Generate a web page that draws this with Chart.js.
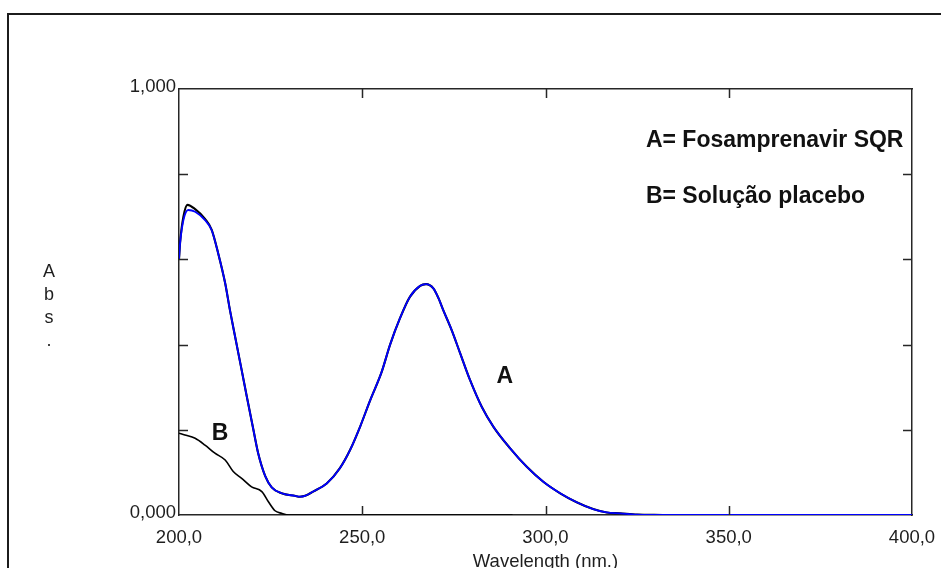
<!DOCTYPE html>
<html>
<head>
<meta charset="utf-8">
<title>Espectro de absorção</title>
<script src="https://cdn.jsdelivr.net/npm/chart.js@4/dist/chart.umd.min.js"></script>
<style>
  html, body { margin: 0; padding: 0; background: #ffffff; }
  #chart { display: block; }
</style>
</head>
<body>
<canvas id="chart" width="941" height="568"></canvas>
<script>
// Curve A: Fosamprenavir SQR (wavelength in nm, absorbance)
const wavelengthsA = [200.0, 200.3, 201.2, 202.5, 204.4, 207.1, 208.9, 210.7, 212.6, 213.9,
  215.3, 217.1, 218.5, 220.3, 221.6, 223.5, 225.3, 228.0, 231.6, 233.0,
  234.4, 236.6, 240.3, 243.9, 246.7, 249.4, 252.1, 255.3, 257.6, 260.3,
  263.0, 265.8, 267.4, 269.4, 270.8, 272.1, 274.4, 276.7, 279.4, 282.6,
  285.8, 290.3, 294.9, 299.4, 304.0, 308.5, 313.0, 316.7, 320.3, 325.0,
  332.0, 400.0];
const absA = [0.600, 0.638, 0.692, 0.716, 0.712, 0.692, 0.669, 0.614, 0.544, 0.481,
  0.419, 0.340, 0.278, 0.200, 0.145, 0.092, 0.065, 0.051, 0.045, 0.043,
  0.045, 0.055, 0.074, 0.110, 0.153, 0.207, 0.268, 0.336, 0.400, 0.462,
  0.512, 0.538, 0.542, 0.532, 0.509, 0.481, 0.434, 0.380, 0.317, 0.254,
  0.207, 0.157, 0.113, 0.078, 0.051, 0.030, 0.014, 0.006, 0.004, 0.001,
  0.000, 0.000];

// Second recording of A (black trace, 200-332 nm)
const wavelengthsA2 = [200.0, 200.3, 201.2, 202.3, 204.4, 207.1, 208.9, 210.7, 212.6, 213.9,
  215.3, 217.1, 218.5, 220.3, 221.6, 223.5, 225.3, 228.0, 231.6, 233.0,
  234.4, 236.6, 240.3, 243.9, 246.7, 249.4, 252.1, 255.3, 257.6, 260.3,
  263.0, 265.8, 267.4, 269.4, 270.8, 272.1, 274.4, 276.7, 279.4, 282.6,
  285.8, 290.3, 294.9, 299.4, 304.0, 308.5, 313.0, 316.7, 320.3, 325.0,
  332.0];
const absA2 = [0.600, 0.640, 0.700, 0.728, 0.718, 0.695, 0.670, 0.614, 0.544, 0.481,
  0.419, 0.340, 0.278, 0.200, 0.145, 0.092, 0.065, 0.051, 0.045, 0.043,
  0.045, 0.055, 0.074, 0.110, 0.153, 0.207, 0.268, 0.336, 0.400, 0.462,
  0.512, 0.538, 0.542, 0.532, 0.509, 0.481, 0.434, 0.380, 0.317, 0.254,
  0.207, 0.157, 0.113, 0.078, 0.051, 0.030, 0.014, 0.006, 0.004, 0.001,
  0.000];

// Curve B: Solução placebo
const wavelengthsB = [200.0, 201.6, 204.4, 207.1, 209.8, 212.6, 214.8, 217.1, 219.8, 222.6,
  224.4, 226.2, 228.0, 230.0, 291.0];
const absB = [0.192, 0.188, 0.180, 0.164, 0.145, 0.129, 0.102, 0.086, 0.066, 0.055,
  0.031, 0.010, 0.004, 0.000, 0.000];

// Axis labels
const xTickValues = [200, 250, 300, 350, 400];
const xTickLabels = ['200,0', '250,0', '300,0', '350,0', '400,0'];
const yTickValues = [0, 1];
const yTickLabels = ['0,000', '1,000'];
// Inner tick marks on the frame
const xMarkValues = [250, 300, 350];
const yMarkValues = [0.2, 0.4, 0.6, 0.8];

const xTitle = 'Wavelength (nm.)';
const yTitleLetters = ['A', 'b', 's', '.'];
const legendLines = ['A= Fosamprenavir SQR', 'B= Solução placebo'];
const curveLabels = ['A', 'B'];

// Text anchors, in data units (wavelength, absorbance)
const legendAnchors = [{ x: 327.4, y: 0.865 }, { x: 327.4, y: 0.733 }];
const curveLabelAnchors = [{ x: 288.9, y: 0.309 }, { x: 211.2, y: 0.176 }];

const toPoints = (xs, ys) => xs.map((x, i) => ({ x: x, y: ys[i] }));

const FRAME = '#262626';
const TICK_FONT = { family: '"Liberation Sans", Arial, sans-serif', size: 18.5 };

const decorations = {
  id: 'decorations',
  beforeDraw(chart) {
    const ctx = chart.ctx;
    ctx.save();
    ctx.fillStyle = '#ffffff';
    ctx.fillRect(0, 0, chart.width, chart.height);
    // outer frame running past the right and bottom edges
    ctx.strokeStyle = '#1c1c1c';
    ctx.lineWidth = 2;
    ctx.strokeRect(8, 14, chart.width + 40, chart.height + 40);
    ctx.restore();
  },
  afterDraw(chart) {
    const ctx = chart.ctx;
    const area = chart.chartArea;
    const xs = chart.scales.x, ys = chart.scales.y;
    const len = 9;
    ctx.save();
    ctx.strokeStyle = FRAME;
    ctx.lineWidth = 1.5;
    ctx.beginPath();
    yMarkValues.forEach(v => {
      const py = Math.round(ys.getPixelForValue(v)) + 0.5;
      ctx.moveTo(area.left, py); ctx.lineTo(area.left + len, py);
      ctx.moveTo(area.right, py); ctx.lineTo(area.right - len, py);
    });
    xMarkValues.forEach(v => {
      const px = Math.round(xs.getPixelForValue(v)) + 0.5;
      ctx.moveTo(px, area.bottom); ctx.lineTo(px, area.bottom - len);
      ctx.moveTo(px, area.top); ctx.lineTo(px, area.top + len);
    });
    ctx.stroke();

    // axis titles
    ctx.fillStyle = '#1e1e1e';
    ctx.font = '18.5px "Liberation Sans", Arial, sans-serif';
    ctx.textAlign = 'center';
    ctx.textBaseline = 'alphabetic';
    ctx.fillText(xTitle, (area.left + area.right) / 2, 566.5);
    ctx.font = '18px "Liberation Sans", Arial, sans-serif';
    yTitleLetters.forEach((ch, i) => ctx.fillText(ch, 49, 277 + 23 * i));

    // legend text and curve labels
    ctx.fillStyle = '#111111';
    ctx.font = 'bold 23px "Liberation Sans", Arial, sans-serif';
    ctx.textAlign = 'left';
    legendLines.forEach((t, i) => {
      ctx.fillText(t, xs.getPixelForValue(legendAnchors[i].x), ys.getPixelForValue(legendAnchors[i].y));
    });
    ctx.textAlign = 'center';
    curveLabels.forEach((t, i) => {
      ctx.fillText(t, xs.getPixelForValue(curveLabelAnchors[i].x), ys.getPixelForValue(curveLabelAnchors[i].y));
    });
    ctx.restore();
  }
};

const border = { display: true, color: FRAME, width: 1.5 };

// fixed scale sizes so the plot frame sits at a set place on the canvas
const fixHeight = h => s => { s.height = h; s.paddingLeft = 0; s.paddingRight = 0; };
const fixWidth = w => s => { s.width = w; s.paddingTop = 0; s.paddingBottom = 0; };

new Chart(document.getElementById('chart'), {
  type: 'line',
  data: {
    datasets: [
      {
        label: 'B',
        data: toPoints(wavelengthsB, absB),
        borderColor: '#000000',
        borderWidth: 1.6,
        order: 1
      },
      {
        label: 'A',
        data: toPoints(wavelengthsA, absA),
        borderColor: '#0000ff',
        borderWidth: 1.8,
        order: 2
      },
      {
        label: 'A (2)',
        data: toPoints(wavelengthsA2, absA2),
        borderColor: '#000000',
        borderWidth: 2.1,
        order: 3
      }
    ]
  },
  options: {
    responsive: false,
    animation: false,
    devicePixelRatio: 1,
    layout: { padding: 0 },
    parsing: false,
    elements: {
      point: { radius: 0, hoverRadius: 0 },
      line: { cubicInterpolationMode: 'monotone', fill: false }
    },
    plugins: { legend: { display: false }, tooltip: { enabled: false } },
    scales: {
      x: {
        type: 'linear', axis: 'x', position: 'bottom', min: 200, max: 400,
        afterFit: fixHeight(53),
        afterBuildTicks: s => { s.ticks = xTickValues.map(v => ({ value: v })); },
        ticks: {
          callback: (v, i) => xTickLabels[i],
          font: TICK_FONT, color: '#1e1e1e', padding: 12,
          maxRotation: 0, autoSkip: false
        },
        grid: { display: false, drawTicks: false },
        border: border
      },
      x2: {
        type: 'linear', axis: 'x', position: 'top', min: 200, max: 400,
        afterFit: fixHeight(89),
        ticks: { display: false },
        grid: { display: false, drawTicks: false },
        border: border
      },
      y: {
        type: 'linear', axis: 'y', position: 'left', min: 0, max: 1,
        afterFit: fixWidth(179),
        afterBuildTicks: s => { s.ticks = yTickValues.map(v => ({ value: v })); },
        ticks: {
          callback: (v, i) => yTickLabels[i],
          font: TICK_FONT, color: '#1e1e1e', padding: 3, labelOffset: -2
        },
        grid: { display: false, drawTicks: false },
        border: border
      },
      y2: {
        type: 'linear', axis: 'y', position: 'right', min: 0, max: 1,
        afterFit: fixWidth(29),
        ticks: { display: false },
        grid: { display: false, drawTicks: false },
        border: border
      }
    }
  },
  plugins: [decorations]
});
</script>
</body>
</html>
